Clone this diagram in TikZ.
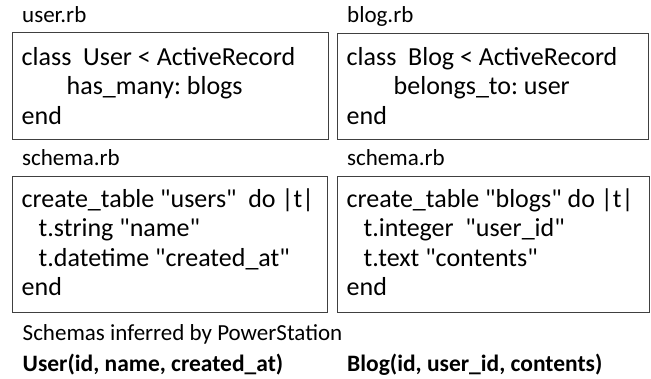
\documentclass[tikz,border=0pt]{standalone}
\usepackage{fontspec}
\setmainfont{Carlito}[Ligatures=TeXOff]
\frenchspacing
\begin{document}
\begin{tikzpicture}[x=1pt,y=1pt,
  codebox/.style={draw=black!75, line width=0.9pt, anchor=north west, inner sep=0pt},
  codetext/.style={anchor=north west, align=left, inner sep=0pt,
    font=\fontsize{26}{29.5}\selectfont},
  fname/.style={anchor=base west, inner sep=0pt, font=\fontsize{23}{26}\selectfont},
  schem/.style={anchor=base west, inner sep=0pt, font=\fontsize{23.5}{26}\selectfont\bfseries}]
\useasboundingbox (0,0) rectangle (651,-379);
% file names
\node[fname] (l1) at (22,-23) {user.rb};
\node[fname] (l2) at (347,-23) {blog.rb};
\node[fname] (l3) at (22,-166) {schema.rb};
\node[fname] (l4) at (347,-166) {schema.rb};
% code boxes
\node[codebox, minimum width=316pt, minimum height=107pt] (userrb) at (12,-32) {};
\node[codebox, minimum width=311pt, minimum height=106pt] (blogrb) at (337,-33) {};
\node[codebox, minimum width=315pt, minimum height=136pt] (usersch) at (12,-176) {};
\node[codebox, minimum width=312pt, minimum height=136pt] (blogsch) at (337,-176) {};
% code texts
\node[codetext] (userrbt) at (21.5,-45)
  {\rule{0pt}{20pt}class\ \ User < ActiveRecord\\\hspace*{45pt}has\_many: blogs\\end};
\node[codetext] (blogrbt) at (346.5,-45)
  {\rule{0pt}{20pt}class\ \ Blog < ActiveRecord\\\hspace*{47pt}belongs\_to: user\\end};
\node[codetext] (userscht) at (21.5,-187)
  {\rule{0pt}{20pt}create\_table "users"\ \ do |t|\\\hspace*{17pt}t.string "name"\\\hspace*{17pt}t.datetime "created\_at"\\end};
\node[codetext] (blogscht) at (346.5,-187)
  {\rule{0pt}{20pt}create\_table "blogs" do |t|\\\hspace*{17pt}t.integer\ \ "user\_id"\\\hspace*{17pt}t.text "contents"\\end};
% inferred schemas
\node[fname] (inf) at (22.5,-341) {Schemas inferred by PowerStation};
\node[schem] (us) at (22.5,-372) {User(id, name, created\_at)};
\node[schem] (bs) at (347,-372) {Blog(id, user\_id, contents)};
\end{tikzpicture}
\end{document}
